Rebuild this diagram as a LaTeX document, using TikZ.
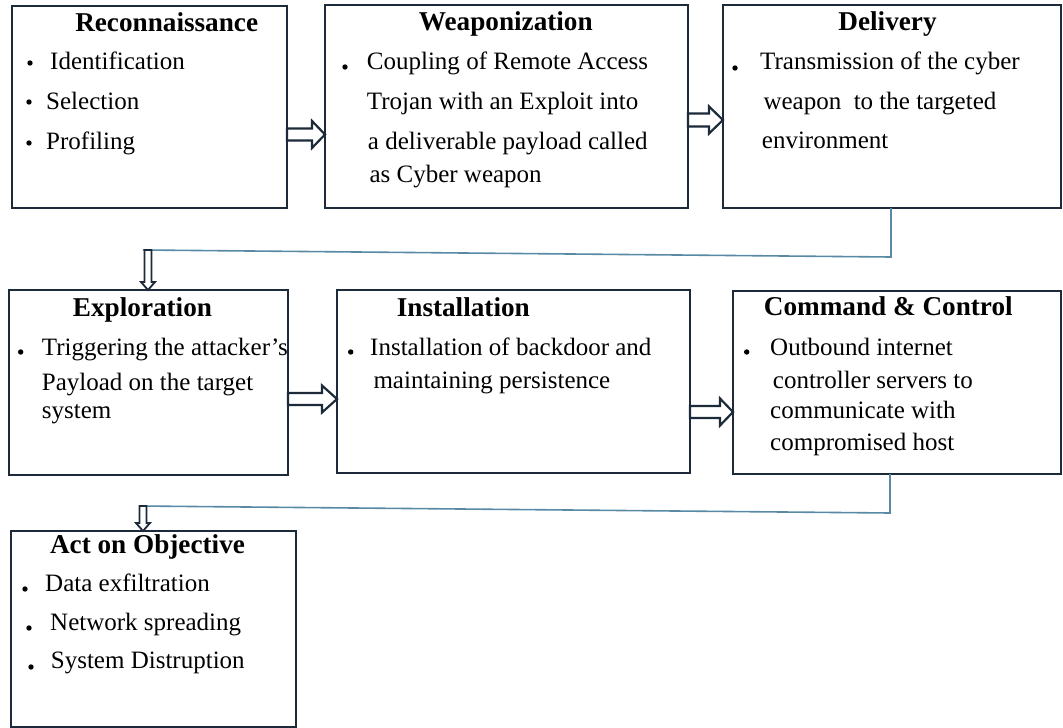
\documentclass[tikz,border=0pt]{standalone}
\usepackage{fontspec}
\setmainfont{Liberation Serif}
\usetikzlibrary{calc}
\definecolor{boxc}{RGB}{28,42,58}
\definecolor{connc}{RGB}{88,138,165}
\newcommand\hollowh[5]{% from node, to node, y, head length, half shaft
  \draw[harrow] let \p1=(#1.east), \p2=(#2.west), \p3=(0,#3) in
    (\x1,\y3+#5bp) -- (\x2-#4bp,\y3+#5bp) -- (\x2-#4bp,\y3+13.5bp) -- (\x2,\y3)
    -- (\x2-#4bp,\y3-13.5bp) -- (\x2-#4bp,\y3-#5bp) -- (\x1,\y3-#5bp) -- cycle;}
\newcommand\hollowv[2]{% from coordinate, to node
  \draw[varrow] let \p1=(#1), \p2=(#2.north) in
    (\x1-3.5bp,\y1) -- (\x1-3.5bp,\y2+8bp) -- (\x1-7bp,\y2+8bp) -- (\x1,\y2)
    -- (\x1+7bp,\y2+8bp) -- (\x1+3.5bp,\y2+8bp) -- (\x1+3.5bp,\y1) -- cycle;}
\begin{document}
\begin{tikzpicture}[x=1bp,y=-1bp,
  stagebox/.style={draw=boxc, line width=2.5bp, inner sep=0, outer sep=0, anchor=north west},
  ttl/.style={font=\fontsize{27.3}{30}\selectfont\bfseries, anchor=base, inner sep=0},
  bdy/.style={font=\fontsize{25.1}{28}\selectfont, anchor=base west, inner sep=0},
  bdot/.style={fill=black, circle, inner sep=0, minimum size=5.4bp},
  harrow/.style={draw=boxc, fill=white, line width=2.2bp, line join=miter},
  varrow/.style={draw=boxc, fill=white, line width=1.8bp, line join=miter},
  conn/.style={draw=connc, line width=1.6bp}]
\useasboundingbox (0,0) rectangle (1063,728);
% boxes
\node[stagebox, minimum width=275bp, minimum height=202bp] (b1) at (12,6) {};
\node[stagebox, minimum width=363bp, minimum height=203bp] (b2) at (325,5) {};
\node[stagebox, minimum width=338bp, minimum height=203bp] (b3) at (723,5) {};
\node[stagebox, minimum width=279bp, minimum height=185bp] (b4) at (9,290) {};
\node[stagebox, minimum width=353bp, minimum height=183bp] (b5) at (337,290) {};
\node[stagebox, minimum width=328bp, minimum height=183bp] (b6) at (733,291) {};
\node[stagebox, minimum width=285bp, minimum height=196bp] (b7) at (11,531) {};
% box 1
\node[ttl] (t1) at (166.7,32) {Reconnaissance};
\node[bdot] (d1a) at (30,63) {};
\node[bdy] (t1a) at (50,70) {Identification};
\node[bdot] (d1b) at (29,102) {};
\node[bdy] (t1b) at (46,110) {Selection};
\node[bdot] (d1c) at (29,143) {};
\node[bdy] (t1c) at (46,150) {Profiling};
% box 2
\node[ttl] (t2) at (505.8,31) {Weaponization};
\node[bdot] (d2a) at (345,67) {};
\node[bdy] (t2a) at (366.7,70) {Coupling of Remote Access};
\node[bdy] (t2b) at (366.7,110) {Trojan with an Exploit into};
\node[bdy] (t2c) at (367.7,150) {a deliverable payload called};
\node[bdy] (t2d) at (369.3,183) {as Cyber weapon};
% box 3
\node[ttl] (t3) at (887.5,31) {Delivery};
\node[bdot] (d3a) at (735,68) {};
\node[bdy] (t3a) at (760,70) {Transmission of the cyber};
\node[bdy] (t3b) at (763.3,110) {weapon \ to the targeted};
\node[bdy] (t3c) at (761.7,148.3) {environment};
% box 4
\node[ttl] (t4) at (142.5,316.7) {Exploration};
\node[bdot] (d4a) at (20.7,352) {};
\node[bdy] (t4a) at (41.7,355) {Triggering the attacker’s};
\node[bdy] (t4b) at (41.7,390) {Payload on the target};
\node[bdy] (t4c) at (41.7,418.3) {system};
% box 5
\node[ttl] (t5) at (463.3,316.7) {Installation};
\node[bdot] (d5a) at (350.7,352) {};
\node[bdy] (t5a) at (370,355) {Installation of backdoor and};
\node[bdy] (t5b) at (373.3,388.3) {maintaining persistence};
% box 6
\node[ttl] (t6) at (888.3,315) {Command \& Control};
\node[bdot] (d6a) at (746.7,352) {};
\node[bdy] (t6a) at (770,355) {Outbound internet};
\node[bdy] (t6b) at (772.7,388.3) {controller servers to};
\node[bdy] (t6c) at (770,418.3) {communicate with};
\node[bdy] (t6d) at (770,450) {compromised host};
% box 7
\node[ttl] (t7) at (147.5,553.3) {Act on Objective};
\node[bdot] (d7a) at (25,589) {};
\node[bdy] (t7a) at (45,591.7) {Data exfiltration};
\node[bdot] (d7b) at (29,628) {};
\node[bdy] (t7b) at (50,630) {Network spreading};
\node[bdot] (d7c) at (31,667) {};
\node[bdy] (t7c) at (50.7,668.3) {System Distruption};
% horizontal block arrows
\hollowh{b1}{b2}{134.5}{13}{6}
\hollowh{b2}{b3}{120}{14}{6.5}
\hollowh{b4}{b5}{399}{15}{6}
\hollowh{b5}{b6}{412}{13}{6}
% return connectors
\coordinate (j1) at (148,250);
\coordinate (j2) at (143,506);
\draw[conn] ([xshift=-1bp]b3.south) -- ++(0,49) -- ([xshift=-5bp]j1);
\hollowv{j1}{b4}
\draw[conn] ([xshift=-7bp]b6.south) -- ++(0,39) -- ([xshift=-4bp]j2);
\hollowv{j2}{b7}
\end{tikzpicture}
\end{document}
